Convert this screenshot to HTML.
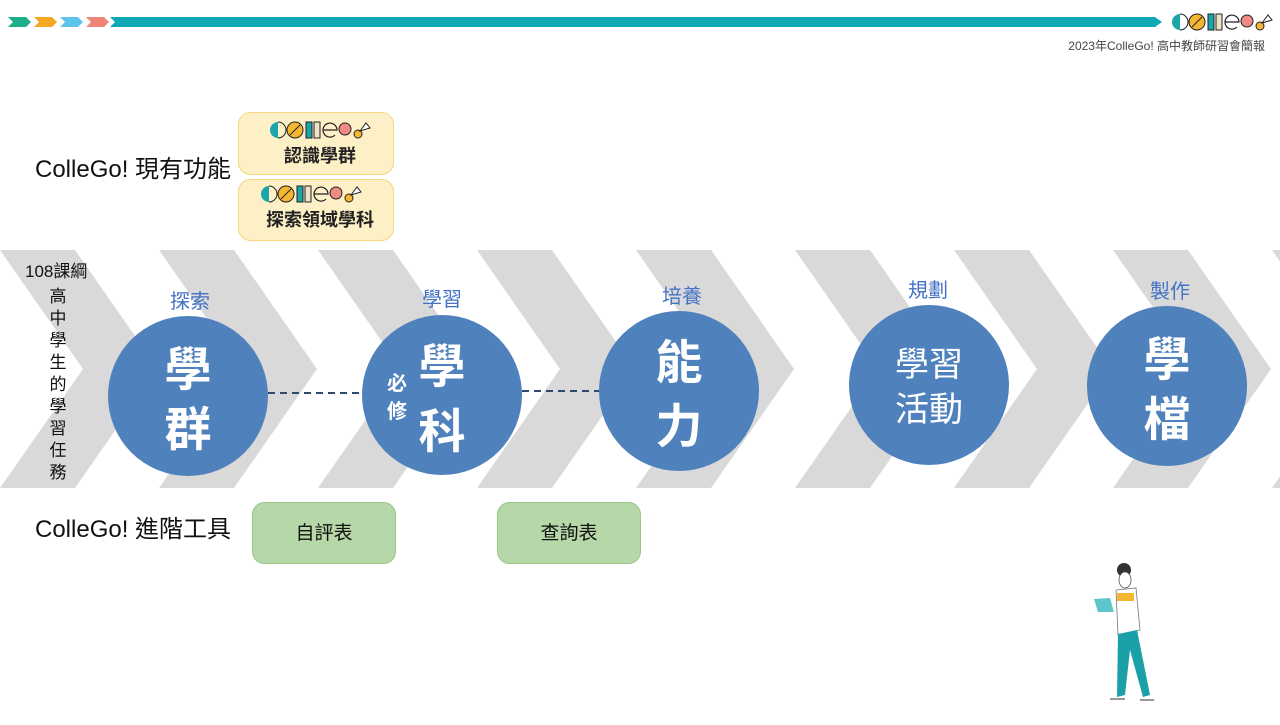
<!DOCTYPE html>
<html><head><meta charset="utf-8"><style>
body{margin:0;width:1280px;height:720px;overflow:hidden;background:#fff;font-family:"Liberation Sans","Noto Sans CJK TC",sans-serif}
svg text{font-family:"Liberation Sans","Noto Sans CJK TC",sans-serif}
</style></head><body>
<svg width="1280" height="720" viewBox="0 0 1280 720" xmlns="http://www.w3.org/2000/svg">
<defs>
<g id="logo">
<path d="M8,0 A8,8 0 0 0 8,16 Z" fill="#1aa6a8"/><path d="M8,0 A8,8 0 0 1 8,16" fill="none" stroke="#222" stroke-width="1"/>
<circle cx="25" cy="8" r="8" fill="#f5b731" stroke="#222" stroke-width="1"/><line x1="20" y1="13" x2="30" y2="3" stroke="#222" stroke-width="1"/>
<rect x="36" y="0" width="6" height="16" fill="#1aa6a8" stroke="#222" stroke-width="1"/>
<rect x="44" y="0" width="6" height="16" fill="#efe3c8" stroke="#222" stroke-width="1"/>
<path d="M53,8 h14 a7,7 0 1 0 -2,5" fill="none" stroke="#222" stroke-width="1.2"/>
<circle cx="75" cy="7" r="6" fill="#f08a85" stroke="#222" stroke-width="1"/>
<circle cx="88" cy="12" r="4" fill="#f5b731" stroke="#222" stroke-width="1"/>
<path d="M90,9 l6,-8 l4,5 z" fill="#fff" stroke="#222" stroke-width="1"/>
</g>
</defs>
<polygon points="8,17 26,17 31,22 26,27 8,27 13,22" fill="#1fae8a"/>
<polygon points="34,17 52,17 57,22 52,27 34,27 39,22" fill="#f5a623"/>
<polygon points="60,17 78,17 83,22 78,27 60,27 65,22" fill="#5bc4ec"/>
<polygon points="86,17 104,17 109,22 104,27 86,27 91,22" fill="#f08478"/>
<polygon points="110,17 1155,17 1162,22 1155,27 110,27 115,22" fill="#0fa9b5"/>
<use href="#logo" x="1172" y="14"/>
<text x="1265" y="50" font-size="12" fill="#444" text-anchor="end">2023年ColleGo! 高中教師研習會簡報</text>
<g fill="#d9d9d9">
<polygon points="0,250 75,250 158,369 75,488 0,488 83,369"/>
<polygon points="159,250 234,250 317,369 234,488 159,488 242,369"/>
<polygon points="318,250 393,250 476,369 393,488 318,488 401,369"/>
<polygon points="477,250 552,250 635,369 552,488 477,488 560,369"/>
<polygon points="636,250 711,250 794,369 711,488 636,488 719,369"/>
<polygon points="795,250 870,250 953,369 870,488 795,488 878,369"/>
<polygon points="954,250 1029,250 1112,369 1029,488 954,488 1037,369"/>
<polygon points="1113,250 1188,250 1271,369 1188,488 1113,488 1196,369"/>
<polygon points="1272,250 1347,250 1430,369 1347,488 1272,488 1355,369"/>
</g>
<line x1="268" y1="393" x2="362" y2="393" stroke="#2f4a70" stroke-width="2" stroke-dasharray="7,5"/>
<line x1="522" y1="391" x2="600" y2="391" stroke="#2f4a70" stroke-width="2" stroke-dasharray="7,5"/>
<g fill="#4f81bd">
<circle cx="188" cy="396" r="80"/>
<circle cx="442" cy="395" r="80"/>
<circle cx="679" cy="391" r="80"/>
<circle cx="929" cy="385" r="80"/>
<circle cx="1167" cy="386" r="80"/>
</g>
<g fill="#fff" font-weight="bold" text-anchor="middle">
<text x="188" y="386" font-size="47">學</text><text x="188" y="446" font-size="47">群</text>
<text x="442" y="383" font-size="47">學</text><text x="442" y="448" font-size="47">科</text>
<text x="397" y="390" font-size="20">必</text><text x="397" y="418" font-size="20">修</text>
<text x="679" y="379" font-size="47">能</text><text x="679" y="443" font-size="47">力</text>
<text x="929" y="376" font-size="34" font-weight="normal">學習</text><text x="929" y="421" font-size="34" font-weight="normal">活動</text>
<text x="1167" y="376" font-size="47">學</text><text x="1167" y="436" font-size="47">檔</text>
</g>
<g fill="#4472c4" font-size="20" text-anchor="middle">
<text x="190" y="308">探索</text><text x="442" y="306">學習</text><text x="682" y="303">培養</text><text x="928" y="297">規劃</text><text x="1170" y="298">製作</text>
</g>
<text x="25" y="277" font-size="17" fill="#111">108課綱</text>
<g font-size="17" fill="#111" text-anchor="middle">
<text x="58" y="302">高</text><text x="58" y="324">中</text><text x="58" y="346">學</text><text x="58" y="368">生</text><text x="58" y="390">的</text><text x="58" y="412">學</text><text x="58" y="434">習</text><text x="58" y="456">任</text><text x="58" y="478">務</text>
</g>
<text x="35" y="177" font-size="24" fill="#111">ColleGo! 現有功能</text>
<text x="35" y="537" font-size="24" fill="#111">ColleGo! 進階工具</text>
<rect x="238.5" y="112.5" width="155" height="62" rx="12" fill="#fdefc6" stroke="#f6d77f"/>
<rect x="238.5" y="179.5" width="155" height="61" rx="12" fill="#fdefc6" stroke="#f6d77f"/>
<use href="#logo" x="270" y="122"/>
<use href="#logo" x="261" y="186"/>
<text x="320" y="162" font-size="18" font-weight="bold" fill="#222" text-anchor="middle">認識學群</text>
<text x="320" y="226" font-size="18" font-weight="bold" fill="#222" text-anchor="middle">探索領域學科</text>
<rect x="252.5" y="502.5" width="143" height="61" rx="12" fill="#b6d7a8" stroke="#9cc58a"/>
<rect x="497.5" y="502.5" width="143" height="61" rx="12" fill="#b6d7a8" stroke="#9cc58a"/>
<text x="324" y="539" font-size="19" fill="#111" text-anchor="middle">自評表</text>
<text x="569" y="539" font-size="19" fill="#111" text-anchor="middle">查詢表</text>
<g>
<circle cx="1124" cy="570" r="7" fill="#333"/>
<ellipse cx="1125" cy="580" rx="6" ry="8" fill="#fff" stroke="#555" stroke-width="0.8"/>
<path d="M1116,590 L1136,588 L1140,630 L1118,635 Z" fill="#fff" stroke="#777" stroke-width="0.8"/>
<rect x="1117" y="593" width="17" height="8" fill="#f5b731"/>
<polygon points="1094,599 1110,598 1114,612 1098,612" fill="#5cc6cc"/>
<path d="M1118,634 L1137,630 L1150,695 L1143,697 L1130,650 L1125,695 L1117,697 Z" fill="#1aa0a6"/>
<path d="M1110,699 h15 M1140,700 h14" stroke="#999" stroke-width="2"/>
</g>
</svg>
</body></html>
